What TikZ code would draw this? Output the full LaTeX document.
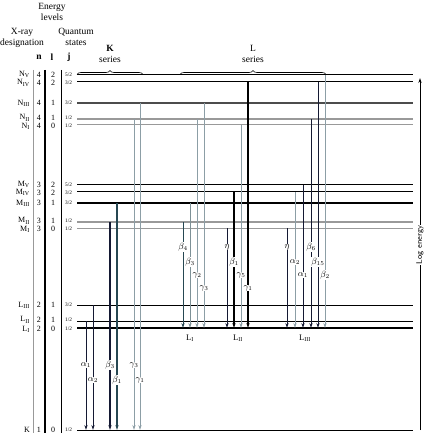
\documentclass[tikz,border=0pt]{standalone}
\usepackage{fontspec}
\setmainfont{Liberation Serif}
\usetikzlibrary{decorations.pathreplacing,arrows.meta}
\definecolor{navy}{rgb}{0.08,0.1,0.2}
\definecolor{tgrey}{rgb}{0.55,0.62,0.65}
\definecolor{teal2}{rgb}{0.15,0.28,0.32}
\definecolor{lgrey}{rgb}{0.6,0.6,0.6}
\begin{document}
\begin{tikzpicture}[x=1pt,y=-1pt,
  lvk/.style={line width=1pt,black},
  lvthick/.style={line width=1.7pt,black},
  lvmid/.style={line width=1.6pt,black!70},
  lvgrey/.style={line width=1.4pt,lgrey},
  lvlgrey/.style={line width=1pt,lgrey},
  tr/.style={-{Stealth[length=5pt,width=3.2pt]},line width=1pt},
  trdark/.style={tr,draw=navy,fill=navy},
  trthick/.style={tr,line width=2pt,draw=black},
  trgrey/.style={tr,draw=tgrey},
  trteal/.style={tr,draw=teal2},
  lab/.style={fill=white,inner sep=0.6pt,font=\fontsize{9}{9}\selectfont},
  hdr/.style={font=\fontsize{9.5}{10}\selectfont,inner sep=0pt},
  lvl/.style={font=\fontsize{8}{8}\selectfont,inner sep=0pt},
  frac/.style={font=\fontsize{5.3}{5.3}\selectfont,inner sep=0pt},
  sep/.style={line width=1pt},
  brc/.style={decorate,decoration={brace,amplitude=4pt},line width=0.6pt}]
\useasboundingbox (0,0) rectangle (448,444);
% header
\node[hdr] (h1) at (52,7) {Energy};
\node[hdr] (h2) at (52,17) {levels};
\node[hdr] (h3) at (22,32) {X-ray};
\node[hdr] (h4) at (22,43) {designation};
\node[hdr] (h5) at (76,32) {Quantum};
\node[hdr] (h6) at (76,43) {states};
\node[hdr,font=\fontsize{9.5}{10}\bfseries] (hn) at (39,57) {n};
\node[hdr,font=\fontsize{9.5}{10}\bfseries] (hl) at (52,57) {l};
\node[hdr,font=\fontsize{9.5}{10}\bfseries] (hj) at (69,57) {j};
\node[hdr,font=\fontsize{9.5}{10}\bfseries] (kk) at (110,48) {K};
\node[hdr] (ks) at (110,59) {series};
\node[hdr] (ll) at (253,48) {L};
\node[hdr] (ls) at (253,59) {series};
\draw[brc] (77,74.5) -- (143,74.5);
\draw[brc] (180,74.5) -- (326,74.5);
% column separators
\draw[sep,lgrey] (33,70) -- (33,433);
\draw[sep,line width=1.3pt] (45,70) -- (45,433);
\draw[sep] (61,70) -- (61,433);
% levels
\foreach \nm/\yy/\dy/\st/\lbl/\nn/\ll/\jj in {
  NV/75/-0.5/lvk/{N\textsubscript{V}}/4/2/{5/2},
  NIV/82/1/lvk/{N\textsubscript{IV}}/4/2/{3/2},
  NIII/103/0/lvmid/{N\textsubscript{III}}/4/1/{3/2},
  NII/119/-1.2/lvgrey/{N\textsubscript{II}}/4/1/{1/2},
  NI/125/1.2/lvlgrey/{N\textsubscript{I}}/4/0/{1/2},
  MV/185/-0.5/lvk/{M\textsubscript{V}}/3/2/{5/2},
  MIV/192/0.8/lvk/{M\textsubscript{IV}}/3/2/{3/2},
  MIII/203/0/lvthick/{M\textsubscript{III}}/3/1/{3/2},
  MII/222/-1.2/lvgrey/{M\textsubscript{II}}/3/1/{1/2},
  MI/228/1.2/lvlgrey/{M\textsubscript{I}}/3/0/{1/2},
  LIII/305/0/lvk/{L\textsubscript{III}}/2/1/{3/2},
  LII/321/-1.2/lvk/{L\textsubscript{II}}/2/1/{1/2},
  LI/328/1.2/lvthick/{L\textsubscript{I}}/2/0/{1/2},
  K/430/0/lvk/{K}/1/0/{1/2}}{
  \coordinate (\nm) at (0,\yy);
  \draw[\st] (77,\yy) -- (413,\yy);
  \node[lvl,anchor=east] (\nm-lab) at (30,\yy+\dy) {\lbl};
  \node[lvl] (\nm-n) at (39,\yy+\dy) {\nn};
  \node[lvl] (\nm-l) at (53,\yy+\dy) {\ll};
  \node[frac,anchor=west] (\nm-j) at (65,\yy+\dy) {\jj};
}
% K series
\draw[trdark] (86,0 |- LII) -- (86,0 |- K);
\draw[trdark] (93,0 |- LIII) -- (93,0 |- K);
\draw[trdark,line width=1.4pt] (110,0 |- MII) -- (110,0 |- K);
\draw[trteal,line width=1.4pt] (117,0 |- MIII) -- (117,0 |- K);
\draw[trgrey] (134,0 |- NII) -- (134,0 |- K);
\draw[trgrey] (140,0 |- NIII) -- (140,0 |- K);
% L_I group
\draw[trteal] (183,0 |- MII) -- (183,0 |- LI);
\draw[trteal,draw=teal2!60] (190,0 |- MIII) -- (190,0 |- LI);
\draw[trgrey] (197,0 |- NII) -- (197,0 |- LI);
\draw[trgrey] (204,0 |- NIII) -- (204,0 |- LI);
% L_II group
\draw[trdark] (227,0 |- MI) -- (227,0 |- LI);
\draw[trthick] (234,0 |- MIV) -- (234,0 |- LI);
\draw[trgrey] (241,0 |- NI) -- (241,0 |- LI);
\draw[trthick] (248,0 |- NIV) -- (248,0 |- LI);
% L_III group
\draw[trdark] (287,0 |- MI) -- (287,0 |- LI);
\draw[trgrey] (295,0 |- MIV) -- (295,0 |- LI);
\draw[trdark] (303,0 |- MV) -- (303,0 |- LI);
\draw[trdark] (311,0 |- NII) -- (311,0 |- LI);
\draw[trdark] (318,0 |- NIV) -- (318,0 |- LI);
\draw[trgrey] (325,0 |- NV) -- (325,0 |- LI);
% labels K
\node[lab] (ka1) at (86,365) {$\alpha_1$};
\node[lab] (ka2) at (93,380) {$\alpha_2$};
\node[lab] (kb3) at (110,365) {$\beta_3$};
\node[lab] (kb1) at (117,380) {$\beta_1$};
\node[lab] (kg3) at (134,365) {$\gamma_3$};
\node[lab] (kg1) at (140,380) {$\gamma_1$};
% labels L
\node[lab] (l1a) at (183,247) {$\beta_4$};
\node[lab] (l1b) at (190,262) {$\beta_3$};
\node[lab] (l1c) at (197,275) {$\gamma_2$};
\node[lab] (l1d) at (204,288) {$\gamma_3$};
\node[lab] (l2a) at (227,247) {$\eta$};
\node[lab] (l2b) at (234,262) {$\beta_1$};
\node[lab] (l2c) at (241,275) {$\gamma_5$};
\node[lab] (l2d) at (248,288) {$\gamma_1$};
\node[lab] (l3a) at (287,247) {$\eta$};
\node[lab] (l3b) at (295,262) {$\alpha_2$};
\node[lab] (l3c) at (303,275) {$\alpha_1$};
\node[lab] (l3d) at (311,247) {$\beta_6$};
\node[lab] (l3e) at (318,262) {$\beta_{15}$};
\node[lab] (l3f) at (325,275) {$\beta_2$};
\node[lvl,font=\fontsize{8.5}{8.5}\selectfont] (gL1) at (190,338) {L\textsubscript{I}};
\node[lvl,font=\fontsize{8.5}{8.5}\selectfont] (gL2) at (238,338) {L\textsubscript{II}};
\node[lvl,font=\fontsize{8.5}{8.5}\selectfont] (gL3) at (305,338) {L\textsubscript{III}};
% log energy
\coordinate (eb) at (420,430);
\coordinate (et) at (420,78);
\draw[-{Stealth[length=5pt,width=3.2pt]},line width=0.8pt] (eb) -- (et);
\node[fill=white,inner sep=1pt,rotate=90,font=\fontsize{8}{8}\sffamily] (le) at (420,245) {Log energy};
\end{tikzpicture}
\end{document}
